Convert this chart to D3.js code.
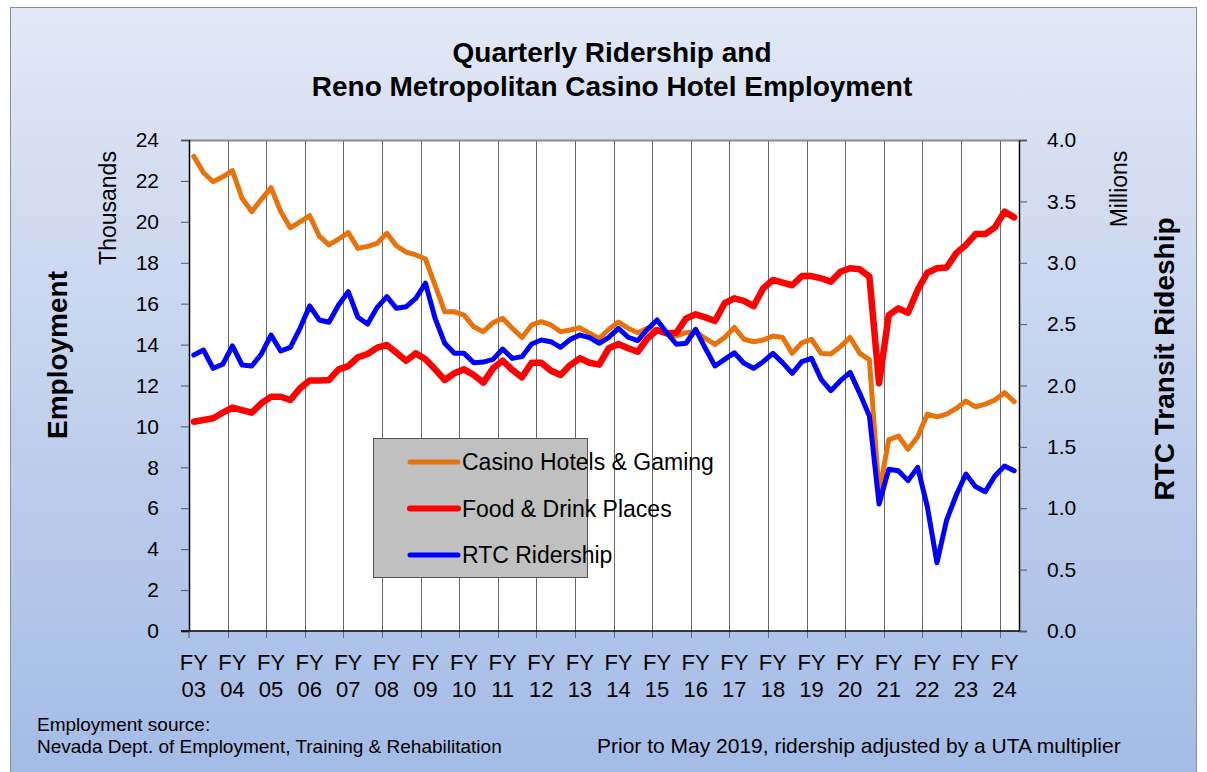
<!DOCTYPE html>
<html><head><meta charset="utf-8">
<script src="https://cdn.jsdelivr.net/npm/d3@7"></script>
<style>body{margin:0;background:#fff;}svg{display:block;font-family:"Liberation Sans",Arial,sans-serif;}</style>
</head><body>
<script>
// ---- data ----
const years = ["03","04","05","06","07","08","09","10","11","12","13","14","15","16","17","18","19","20","21","22","23","24"];
const quarters = [];
years.forEach(y => { for (let q = 1; q <= 4; q++) quarters.push("FY" + y + " Q" + q); });
const categories = quarters.slice(0, 86);
const casino = [23.2,22.4,21.96,22.2,22.5,21.15,20.5,21.1,21.67,20.5,19.7,20.0,20.3,19.3,18.87,19.16,19.47,18.7,18.8,18.95,
  19.44,18.82,18.52,18.38,18.18,16.9,15.6,15.6,15.44,14.87,14.63,15.07,15.28,14.8,14.35,14.96,15.12,14.96,14.63,14.71,
  14.82,14.55,14.3,14.75,15.1,14.8,14.58,14.8,14.7,14.55,14.42,14.58,14.63,14.3,14.01,14.35,14.84,14.26,14.14,14.22,
  14.42,14.35,13.57,14.09,14.26,13.57,13.54,13.9,14.35,13.57,13.25,6.75,9.34,9.53,8.88,9.5,10.6,10.47,10.6,10.88,
  11.24,10.96,11.09,11.29,11.65,11.21];
const food = [10.23,10.31,10.4,10.67,10.92,10.8,10.67,11.13,11.45,11.45,11.29,11.86,12.24,12.24,12.27,12.79,12.95,13.38,13.54,13.85,
  13.98,13.6,13.21,13.57,13.28,12.79,12.27,12.6,12.79,12.51,12.14,12.84,13.21,12.76,12.4,13.11,13.11,12.72,12.51,13.0,
  13.33,13.11,13.02,13.82,14.03,13.82,13.65,14.3,14.71,14.55,14.58,15.28,15.48,15.33,15.15,16.02,16.26,16.14,15.88,16.75,
  17.16,17.03,16.9,17.35,17.35,17.24,17.07,17.56,17.73,17.68,17.32,12.11,15.44,15.77,15.56,16.67,17.51,17.73,17.77,18.47,
  18.87,19.4,19.4,19.73,20.5,20.22];
const ridership = [2.248,2.289,2.14,2.173,2.322,2.167,2.159,2.257,2.411,2.281,2.311,2.466,2.648,2.534,2.515,2.656,2.764,2.556,2.501,2.637,
  2.724,2.629,2.642,2.71,2.833,2.547,2.344,2.262,2.262,2.186,2.191,2.213,2.297,2.221,2.235,2.338,2.371,2.357,2.311,2.376,
  2.411,2.39,2.344,2.393,2.466,2.393,2.365,2.458,2.534,2.43,2.336,2.344,2.458,2.303,2.159,2.213,2.267,2.181,2.14,2.194,
  2.262,2.186,2.099,2.194,2.221,2.05,1.958,2.039,2.107,1.936,1.752,1.035,1.317,1.306,1.225,1.333,1.013,0.556,0.904,1.108,
  1.279,1.176,1.135,1.263,1.344,1.306];
const leftTicks = [0,2,4,6,8,10,12,14,16,18,20,22,24];
const rightTicks = [0,0.5,1.0,1.5,2.0,2.5,3.0,3.5,4.0];
const seriesNames = ["Casino Hotels & Gaming","Food & Drink Places","RTC Ridership"];
const seriesColors = ["#e8720c","#ff0000","#0000ff"];

// ---- layout ----
const W = 1207, H = 772;
const L = 189, R = 1019, T = 140, B = 631;
const svg = d3.select("body").append("svg").attr("width", W).attr("height", H);
const defs = svg.append("defs");
const grad = defs.append("linearGradient").attr("id","bg").attr("x1",0).attr("y1",0).attr("x2",0).attr("y2",1);
grad.append("stop").attr("offset","0%").attr("stop-color","#e2e8f5");
grad.append("stop").attr("offset","100%").attr("stop-color","#a3bbe6");
svg.append("rect").attr("x",10.5).attr("y",7.5).attr("width",1186).attr("height",770)
  .attr("fill","url(#bg)").attr("stroke","#8890a0").attr("stroke-width",1);

const x = d3.scaleBand().domain(d3.range(categories.length)).range([L, R]);
const xc = i => x(i) + x.bandwidth()/2;
const yL = d3.scaleLinear().domain([0,24]).range([B, T]);
const yR = d3.scaleLinear().domain([0,4]).range([B, T]);

// plot area
svg.append("rect").attr("x",L).attr("y",T).attr("width",R-L).attr("height",B-T).attr("fill","#fff");
// gridlines at year boundaries
const gridIdx = d3.range(4, categories.length, 4);
svg.append("g").selectAll("line").data(gridIdx).join("line")
  .attr("x1", i => Math.round(x(i))+0.5).attr("x2", i => Math.round(x(i))+0.5)
  .attr("y1", T).attr("y2", B+7).attr("stroke","#6a6a6a").attr("stroke-width",1);
// top border
svg.append("line").attr("x1",L).attr("x2",R).attr("y1",T+0.5).attr("y2",T+0.5).attr("stroke","#8c8c8c").attr("stroke-width",2);

// left axis
const fs = 21;
const gL = svg.append("g").attr("transform",`translate(${L},0)`)
  .call(d3.axisLeft(yL).tickValues(leftTicks).tickSize(8).tickPadding(22).tickFormat(d3.format("d")));
gL.select(".domain").attr("stroke","#000").attr("stroke-width",1.5);
gL.selectAll(".tick line").attr("stroke","#555");
gL.selectAll("text").attr("font-size",fs).attr("font-family","Liberation Sans, Arial").attr("fill","#000");

// right axis
const gR = svg.append("g").attr("transform",`translate(${R},0)`)
  .call(d3.axisRight(yR).tickValues(rightTicks).tickSize(8).tickPadding(20).tickFormat(d3.format(".1f")));
gR.select(".domain").attr("stroke","#000").attr("stroke-width",1.5);
gR.selectAll(".tick line").attr("stroke","#555");
gR.selectAll("text").attr("font-size",fs).attr("font-family","Liberation Sans, Arial").attr("fill","#000");

// bottom axis
svg.append("line").attr("x1",L-8).attr("x2",R).attr("y1",B).attr("y2",B).attr("stroke","#000").attr("stroke-width",1.5);
svg.append("line").attr("x1",L).attr("x2",L).attr("y1",B).attr("y2",B+7).attr("stroke","#555");
const yearIdx = d3.range(0, categories.length, 4);
const xl = svg.append("g").selectAll("g").data(yearIdx).join("g")
  .attr("transform", i => `translate(${xc(i)},0)`);
xl.append("text").attr("y",670).attr("text-anchor","middle").attr("font-size",22).text("FY");
xl.append("text").attr("y",697).attr("text-anchor","middle").attr("font-size",22).text((d,k) => years[k]);

// lines
const mk = (ys) => d3.line().x((d,i) => xc(i)).y(d => ys(d)).curve(d3.curveLinear);
svg.append("path").datum(casino).attr("d", mk(yL)).attr("fill","none").attr("stroke",seriesColors[0]).attr("stroke-width",5).attr("stroke-linejoin","round").attr("stroke-linecap","round");
svg.append("path").datum(food).attr("d", mk(yL)).attr("fill","none").attr("stroke",seriesColors[1]).attr("stroke-width",6.5).attr("stroke-linejoin","round").attr("stroke-linecap","round");
svg.append("path").datum(ridership).attr("d", mk(yR)).attr("fill","none").attr("stroke",seriesColors[2]).attr("stroke-width",5).attr("stroke-linejoin","round").attr("stroke-linecap","round");

// legend
svg.append("rect").attr("x",373.5).attr("y",438.5).attr("width",214).attr("height",139).attr("fill","#c0c0c0").attr("stroke","#555");
const lg = svg.append("g").selectAll("g").data(seriesNames).join("g")
  .attr("transform",(d,i)=>`translate(0,${462 + i*46.5})`);
lg.append("line").attr("x1",410).attr("x2",458).attr("stroke",(d,i)=>seriesColors[i]).attr("stroke-width",(d,i)=>i===1?6:5).attr("stroke-linecap","round");
lg.append("text").attr("x",462).attr("y",8).attr("font-size",23).text(d=>d);

// titles
svg.append("text").attr("x",612).attr("y",62).attr("text-anchor","middle").attr("font-size",28).attr("font-weight","bold").text("Quarterly Ridership and");
svg.append("text").attr("x",612).attr("y",96).attr("text-anchor","middle").attr("font-size",28).attr("font-weight","bold").text("Reno Metropolitan Casino Hotel Employment");

svg.append("text").attr("transform","translate(116,208) rotate(-90)").attr("text-anchor","middle").attr("font-size",23).text("Thousands");
svg.append("text").attr("transform","translate(67,355) rotate(-90)").attr("text-anchor","middle").attr("font-size",28).attr("font-weight","bold").text("Employment");
svg.append("text").attr("transform","translate(1127,189) rotate(-90)").attr("text-anchor","middle").attr("font-size",23).text("Millions");
svg.append("text").attr("transform","translate(1174,359) rotate(-90)").attr("text-anchor","middle").attr("font-size",28).attr("font-weight","bold").text("RTC Transit Rideship");

// notes
svg.append("text").attr("x",37).attr("y",731).attr("font-size",19).text("Employment source:");
svg.append("text").attr("x",37).attr("y",753).attr("font-size",19).text("Nevada Dept. of Employment, Training & Rehabilitation");
svg.append("text").attr("x",597).attr("y",753).attr("font-size",21).text("Prior to May 2019, ridership adjusted by a UTA multiplier");
</script>
</body></html>
